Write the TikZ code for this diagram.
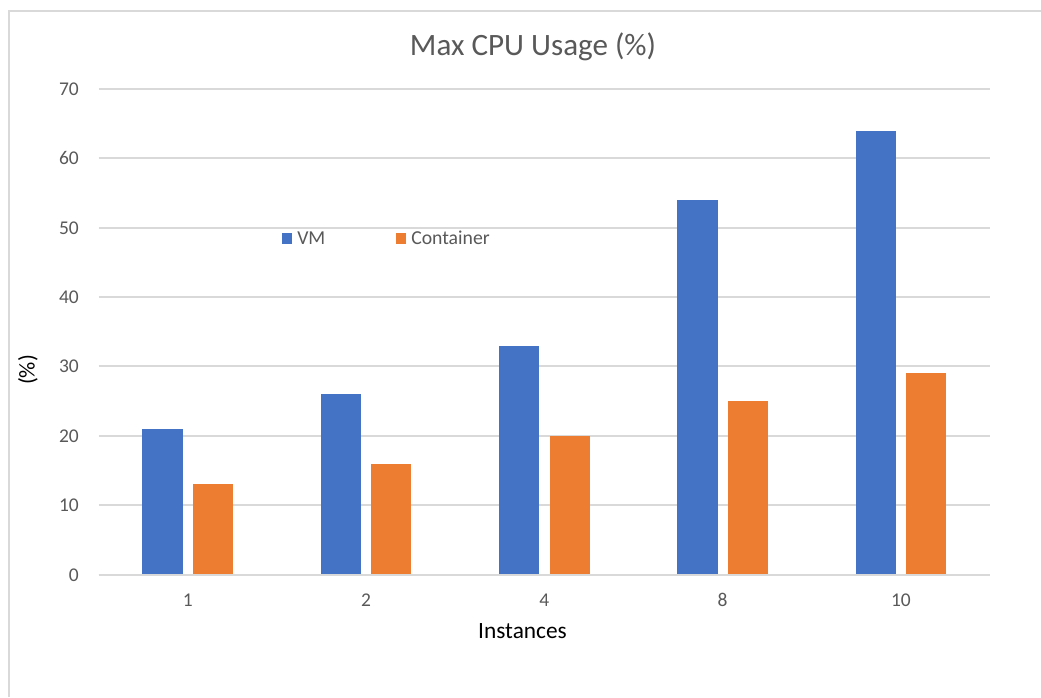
\documentclass[tikz,border=0pt]{standalone}
\usepackage{fontspec}
\setmainfont{Carlito}
\definecolor{vmblue}{HTML}{4472C4}
\definecolor{ctorange}{HTML}{ED7D31}
\definecolor{gridgray}{HTML}{D9D9D9}
\definecolor{txtgray}{HTML}{595959}
\begin{document}
\begin{tikzpicture}[x=0.75pt,y=-0.75pt,
  gridline/.style={gridgray, line width=1.5pt},
  ticklabel/.style={text=txtgray, inner sep=0pt, font=\fontsize{14.6}{17}\selectfont},
  vmbar/.style={fill=vmblue},
  ctbar/.style={fill=ctorange},
  legtext/.style={text=txtgray, inner sep=0pt, anchor=base west, font=\fontsize{14.8}{17}\selectfont}]
\useasboundingbox (0,0) rectangle (1041,697);
\fill[white] (0,0) rectangle (1041,697);
% frame (cropped on right and bottom)
\draw[gridline] (9,697) -- (9,10.5) -- (1041,10.5);
% title
\node[text=txtgray, inner sep=0pt, anchor=base, font=\fontsize{23.3}{27}\selectfont] (title) at (533,55) {Max CPU Usage (\%)};
% grid and y labels
\foreach \v in {0,...,7} {
  \pgfmathsetmacro{\yy}{574.5-\v*69.36}
  \draw[gridline] (98.6,\yy) -- (990,\yy);
  \pgfmathtruncatemacro{\lab}{\v*10}
  \node[ticklabel, anchor=base east] (yl\v) at (79,\yy+6.5) {\lab};
}
% bars
\foreach \i/\cat/\vm/\ct in {0/1/21/13,1/2/26/16,2/4/33/20,3/8/54/25,4/10/64/29} {
  \pgfmathsetmacro{\c}{98.6+178.3*(\i+0.5)}
  \fill[vmbar] (\c-45.35,574.5) rectangle (\c-5.15,574.5-\vm*6.936);
  \fill[ctbar] (\c+5.15,574.5) rectangle (\c+45.35,574.5-\ct*6.936);
  \node[ticklabel, anchor=base] (xl\i) at (\c,606) {\cat};
}
% redraw zero line on top
\draw[gridline] (98.6,574.5) -- (990,574.5);
% axis titles
\node[inner sep=0pt, anchor=base, font=\fontsize{17.5}{20}\selectfont] (xtitle) at (522.5,638) {Instances};
\node[inner sep=0pt, rotate=90, font=\fontsize{17}{20}\selectfont] (ytitle) at (28,370) {(\%)};
% legend
\fill[vmblue] (282,233) rectangle (292,244);
\node[legtext] (lvm) at (297,244) {VM};
\fill[ctorange] (395.5,233) rectangle (405.5,244);
\node[legtext] (lct) at (411,244) {Container};
\end{tikzpicture}
\end{document}
